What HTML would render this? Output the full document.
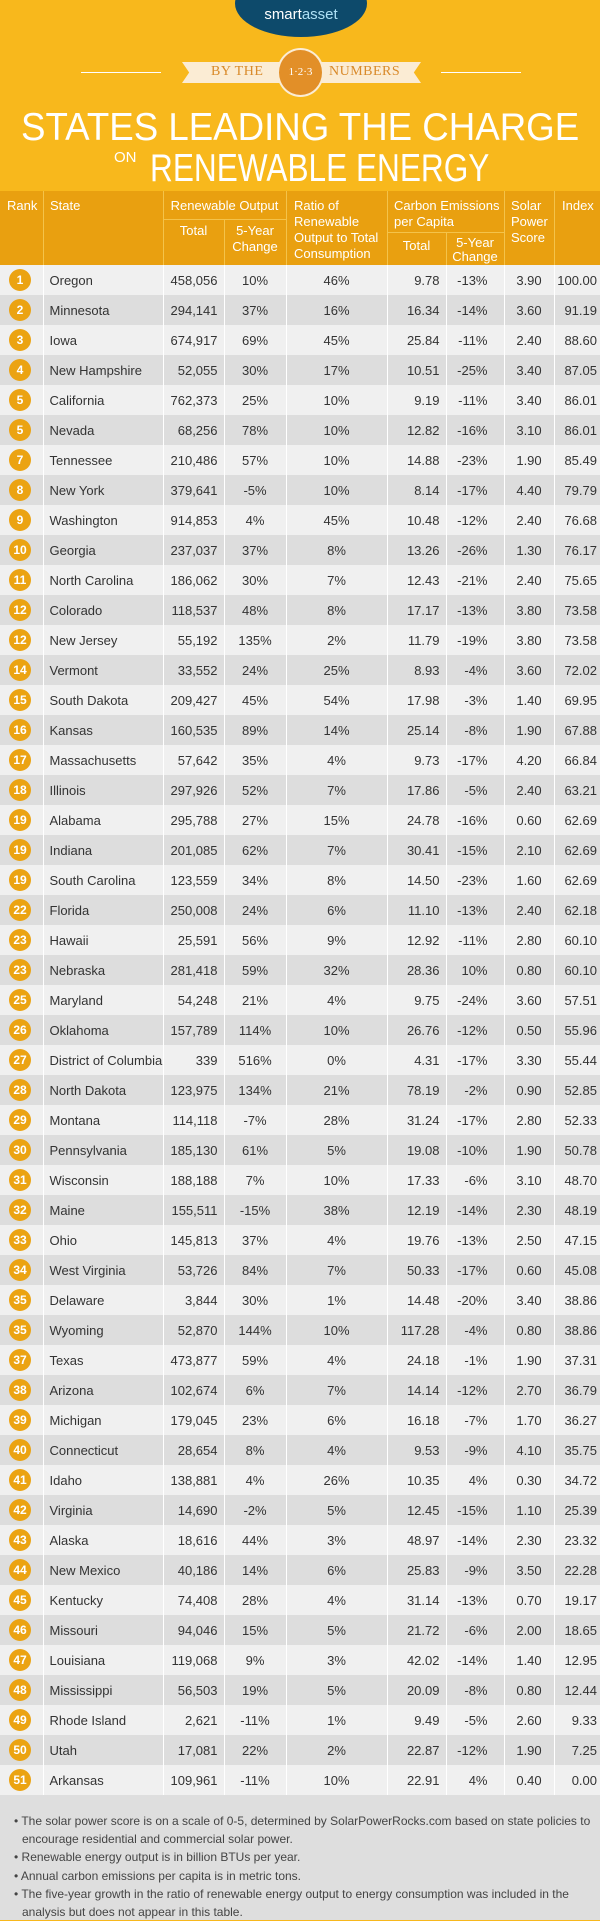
<!DOCTYPE html>
<html><head><meta charset="utf-8">
<style>
*{margin:0;padding:0;box-sizing:border-box}
body{width:600px;height:1920px;background:#f8b81c;font-family:"Liberation Sans",sans-serif;position:relative;overflow:hidden}
.abs{position:absolute}
.hd{position:absolute;background:#e9a010;}
.ht{position:absolute;color:#fff;font-size:13px;line-height:16px}
table{position:absolute;left:0;top:265px;width:600px;border-collapse:collapse;table-layout:fixed;font-size:13px;color:#333}
td{height:30px;padding:0;border-left:1px solid #fff;white-space:nowrap}
td:first-child{border-left:none}
tr:nth-child(odd){background:#f0f0f0}
tr:nth-child(even){background:#dddddd}
td.r{text-align:right;padding-right:6px}
td.c{text-align:center}
td.s{padding-left:6px}
td.cr{text-align:right;padding-right:16px}
td.ir{text-align:right;padding-right:3px}
.b{display:inline-block;width:22px;height:22px;border-radius:50%;background:#eba312;color:#fff;font-weight:bold;font-size:12px;line-height:22px;text-align:center;margin-left:9px;vertical-align:middle}
.notes{position:absolute;left:0;top:1795px;width:600px;height:125px;background:#dedede;font-size:12px;color:#444;line-height:17.5px;padding:18px 8px 0 8px}
.notes p{padding-left:14px;text-indent:-8px;margin-bottom:1px}
.t{position:absolute;white-space:nowrap;color:#fff;font-size:39px;line-height:44px}
</style></head><body>
<div class="abs" style="left:235px;top:-30px;width:132px;height:67px;border-radius:50%;background:#0d4a6b"></div>
<div class="abs" style="left:235px;top:6px;width:132px;text-align:center;color:#fff;font-size:15px">smart<span style="color:#aee0f5">asset</span></div>
<div class="abs" style="left:81px;top:72px;width:80px;height:1px;background:#fff"></div>
<div class="abs" style="left:441px;top:72px;width:80px;height:1px;background:#fff"></div>
<div class="abs" style="left:182px;top:62px;width:239px;height:21px;background:#fbecd4;clip-path:polygon(0 0,100% 0,97% 50%,100% 100%,0 100%,3% 50%)"></div>
<div class="abs" style="left:211px;top:64px;color:#d98a2a;font-family:'Liberation Serif',serif;font-size:14px;letter-spacing:0.5px">BY THE</div>
<div class="abs" style="left:329px;top:64px;color:#d98a2a;font-family:'Liberation Serif',serif;font-size:14px;letter-spacing:0.5px">NUMBERS</div>
<div class="abs" style="left:277px;top:48px;width:47px;height:49px;border-radius:50%;background:#e28f28;border:2px solid #fbecd4;color:#fff;font-size:11px;text-align:center;line-height:45px;font-family:'Liberation Serif',serif">1·2·3</div>
<div class="t" style="left:21px;top:106px;transform:scaleX(0.94);transform-origin:0 0">STATES LEADING THE CHARGE</div>
<div class="abs" style="left:114px;top:149px;color:#fff;font-size:15px">ON</div>
<div class="t" style="left:150px;top:147px;transform:scaleX(0.81);transform-origin:0 0">RENEWABLE ENERGY</div>
<!-- header -->
<div class="hd" style="left:0;top:191px;width:600px;height:74px"></div>
<div class="abs" style="left:43px;top:191px;width:1px;height:74px;background:#f4c34a"></div>
<div class="abs" style="left:163px;top:191px;width:1px;height:74px;background:#f4c34a"></div>
<div class="abs" style="left:286px;top:191px;width:1px;height:74px;background:#f4c34a"></div>
<div class="abs" style="left:387px;top:191px;width:1px;height:74px;background:#f4c34a"></div>
<div class="abs" style="left:504px;top:191px;width:1px;height:74px;background:#f4c34a"></div>
<div class="abs" style="left:554px;top:191px;width:1px;height:74px;background:#f4c34a"></div>
<div class="abs" style="left:163px;top:219px;width:123px;height:1px;background:#f4c34a"></div>
<div class="abs" style="left:224px;top:219px;width:1px;height:46px;background:#f4c34a"></div>
<div class="abs" style="left:387px;top:232px;width:117px;height:1px;background:#f4c34a"></div>
<div class="abs" style="left:446px;top:232px;width:1px;height:33px;background:#f4c34a"></div>
<div class="ht" style="left:7px;top:198px">Rank</div>
<div class="ht" style="left:50px;top:198px">State</div>
<div class="ht" style="left:163px;top:198px;width:123px;text-align:center">Renewable Output</div>
<div class="ht" style="left:163px;top:223px;width:61px;text-align:center">Total</div>
<div class="ht" style="left:224px;top:223px;width:62px;text-align:center">5-Year<br>Change</div>
<div class="ht" style="left:294px;top:198px">Ratio of<br>Renewable<br>Output to Total<br>Consumption</div>
<div class="ht" style="left:394px;top:198px">Carbon Emissions<br>per Capita</div>
<div class="ht" style="left:387px;top:238px;width:59px;text-align:center">Total</div>
<div class="ht" style="left:446px;top:236px;width:58px;text-align:center;line-height:14px">5-Year<br>Change</div>
<div class="ht" style="left:511px;top:198px">Solar<br>Power<br>Score</div>
<div class="ht" style="left:562px;top:198px">Index</div>
<table>
<colgroup><col style="width:43px"><col style="width:120px"><col style="width:61px"><col style="width:62px"><col style="width:101px"><col style="width:59px"><col style="width:58px"><col style="width:50px"><col style="width:46px"></colgroup>
<tr><td><span class="b">1</span></td><td class="s">Oregon</td><td class="r">458,056</td><td class="c">10%</td><td class="c">46%</td><td class="r">9.78</td><td class="cr">-13%</td><td class="c">3.90</td><td class="ir">100.00</td></tr>
<tr><td><span class="b">2</span></td><td class="s">Minnesota</td><td class="r">294,141</td><td class="c">37%</td><td class="c">16%</td><td class="r">16.34</td><td class="cr">-14%</td><td class="c">3.60</td><td class="ir">91.19</td></tr>
<tr><td><span class="b">3</span></td><td class="s">Iowa</td><td class="r">674,917</td><td class="c">69%</td><td class="c">45%</td><td class="r">25.84</td><td class="cr">-11%</td><td class="c">2.40</td><td class="ir">88.60</td></tr>
<tr><td><span class="b">4</span></td><td class="s">New Hampshire</td><td class="r">52,055</td><td class="c">30%</td><td class="c">17%</td><td class="r">10.51</td><td class="cr">-25%</td><td class="c">3.40</td><td class="ir">87.05</td></tr>
<tr><td><span class="b">5</span></td><td class="s">California</td><td class="r">762,373</td><td class="c">25%</td><td class="c">10%</td><td class="r">9.19</td><td class="cr">-11%</td><td class="c">3.40</td><td class="ir">86.01</td></tr>
<tr><td><span class="b">5</span></td><td class="s">Nevada</td><td class="r">68,256</td><td class="c">78%</td><td class="c">10%</td><td class="r">12.82</td><td class="cr">-16%</td><td class="c">3.10</td><td class="ir">86.01</td></tr>
<tr><td><span class="b">7</span></td><td class="s">Tennessee</td><td class="r">210,486</td><td class="c">57%</td><td class="c">10%</td><td class="r">14.88</td><td class="cr">-23%</td><td class="c">1.90</td><td class="ir">85.49</td></tr>
<tr><td><span class="b">8</span></td><td class="s">New York</td><td class="r">379,641</td><td class="c">-5%</td><td class="c">10%</td><td class="r">8.14</td><td class="cr">-17%</td><td class="c">4.40</td><td class="ir">79.79</td></tr>
<tr><td><span class="b">9</span></td><td class="s">Washington</td><td class="r">914,853</td><td class="c">4%</td><td class="c">45%</td><td class="r">10.48</td><td class="cr">-12%</td><td class="c">2.40</td><td class="ir">76.68</td></tr>
<tr><td><span class="b">10</span></td><td class="s">Georgia</td><td class="r">237,037</td><td class="c">37%</td><td class="c">8%</td><td class="r">13.26</td><td class="cr">-26%</td><td class="c">1.30</td><td class="ir">76.17</td></tr>
<tr><td><span class="b">11</span></td><td class="s">North Carolina</td><td class="r">186,062</td><td class="c">30%</td><td class="c">7%</td><td class="r">12.43</td><td class="cr">-21%</td><td class="c">2.40</td><td class="ir">75.65</td></tr>
<tr><td><span class="b">12</span></td><td class="s">Colorado</td><td class="r">118,537</td><td class="c">48%</td><td class="c">8%</td><td class="r">17.17</td><td class="cr">-13%</td><td class="c">3.80</td><td class="ir">73.58</td></tr>
<tr><td><span class="b">12</span></td><td class="s">New Jersey</td><td class="r">55,192</td><td class="c">135%</td><td class="c">2%</td><td class="r">11.79</td><td class="cr">-19%</td><td class="c">3.80</td><td class="ir">73.58</td></tr>
<tr><td><span class="b">14</span></td><td class="s">Vermont</td><td class="r">33,552</td><td class="c">24%</td><td class="c">25%</td><td class="r">8.93</td><td class="cr">-4%</td><td class="c">3.60</td><td class="ir">72.02</td></tr>
<tr><td><span class="b">15</span></td><td class="s">South Dakota</td><td class="r">209,427</td><td class="c">45%</td><td class="c">54%</td><td class="r">17.98</td><td class="cr">-3%</td><td class="c">1.40</td><td class="ir">69.95</td></tr>
<tr><td><span class="b">16</span></td><td class="s">Kansas</td><td class="r">160,535</td><td class="c">89%</td><td class="c">14%</td><td class="r">25.14</td><td class="cr">-8%</td><td class="c">1.90</td><td class="ir">67.88</td></tr>
<tr><td><span class="b">17</span></td><td class="s">Massachusetts</td><td class="r">57,642</td><td class="c">35%</td><td class="c">4%</td><td class="r">9.73</td><td class="cr">-17%</td><td class="c">4.20</td><td class="ir">66.84</td></tr>
<tr><td><span class="b">18</span></td><td class="s">Illinois</td><td class="r">297,926</td><td class="c">52%</td><td class="c">7%</td><td class="r">17.86</td><td class="cr">-5%</td><td class="c">2.40</td><td class="ir">63.21</td></tr>
<tr><td><span class="b">19</span></td><td class="s">Alabama</td><td class="r">295,788</td><td class="c">27%</td><td class="c">15%</td><td class="r">24.78</td><td class="cr">-16%</td><td class="c">0.60</td><td class="ir">62.69</td></tr>
<tr><td><span class="b">19</span></td><td class="s">Indiana</td><td class="r">201,085</td><td class="c">62%</td><td class="c">7%</td><td class="r">30.41</td><td class="cr">-15%</td><td class="c">2.10</td><td class="ir">62.69</td></tr>
<tr><td><span class="b">19</span></td><td class="s">South Carolina</td><td class="r">123,559</td><td class="c">34%</td><td class="c">8%</td><td class="r">14.50</td><td class="cr">-23%</td><td class="c">1.60</td><td class="ir">62.69</td></tr>
<tr><td><span class="b">22</span></td><td class="s">Florida</td><td class="r">250,008</td><td class="c">24%</td><td class="c">6%</td><td class="r">11.10</td><td class="cr">-13%</td><td class="c">2.40</td><td class="ir">62.18</td></tr>
<tr><td><span class="b">23</span></td><td class="s">Hawaii</td><td class="r">25,591</td><td class="c">56%</td><td class="c">9%</td><td class="r">12.92</td><td class="cr">-11%</td><td class="c">2.80</td><td class="ir">60.10</td></tr>
<tr><td><span class="b">23</span></td><td class="s">Nebraska</td><td class="r">281,418</td><td class="c">59%</td><td class="c">32%</td><td class="r">28.36</td><td class="cr">10%</td><td class="c">0.80</td><td class="ir">60.10</td></tr>
<tr><td><span class="b">25</span></td><td class="s">Maryland</td><td class="r">54,248</td><td class="c">21%</td><td class="c">4%</td><td class="r">9.75</td><td class="cr">-24%</td><td class="c">3.60</td><td class="ir">57.51</td></tr>
<tr><td><span class="b">26</span></td><td class="s">Oklahoma</td><td class="r">157,789</td><td class="c">114%</td><td class="c">10%</td><td class="r">26.76</td><td class="cr">-12%</td><td class="c">0.50</td><td class="ir">55.96</td></tr>
<tr><td><span class="b">27</span></td><td class="s">District of Columbia</td><td class="r">339</td><td class="c">516%</td><td class="c">0%</td><td class="r">4.31</td><td class="cr">-17%</td><td class="c">3.30</td><td class="ir">55.44</td></tr>
<tr><td><span class="b">28</span></td><td class="s">North Dakota</td><td class="r">123,975</td><td class="c">134%</td><td class="c">21%</td><td class="r">78.19</td><td class="cr">-2%</td><td class="c">0.90</td><td class="ir">52.85</td></tr>
<tr><td><span class="b">29</span></td><td class="s">Montana</td><td class="r">114,118</td><td class="c">-7%</td><td class="c">28%</td><td class="r">31.24</td><td class="cr">-17%</td><td class="c">2.80</td><td class="ir">52.33</td></tr>
<tr><td><span class="b">30</span></td><td class="s">Pennsylvania</td><td class="r">185,130</td><td class="c">61%</td><td class="c">5%</td><td class="r">19.08</td><td class="cr">-10%</td><td class="c">1.90</td><td class="ir">50.78</td></tr>
<tr><td><span class="b">31</span></td><td class="s">Wisconsin</td><td class="r">188,188</td><td class="c">7%</td><td class="c">10%</td><td class="r">17.33</td><td class="cr">-6%</td><td class="c">3.10</td><td class="ir">48.70</td></tr>
<tr><td><span class="b">32</span></td><td class="s">Maine</td><td class="r">155,511</td><td class="c">-15%</td><td class="c">38%</td><td class="r">12.19</td><td class="cr">-14%</td><td class="c">2.30</td><td class="ir">48.19</td></tr>
<tr><td><span class="b">33</span></td><td class="s">Ohio</td><td class="r">145,813</td><td class="c">37%</td><td class="c">4%</td><td class="r">19.76</td><td class="cr">-13%</td><td class="c">2.50</td><td class="ir">47.15</td></tr>
<tr><td><span class="b">34</span></td><td class="s">West Virginia</td><td class="r">53,726</td><td class="c">84%</td><td class="c">7%</td><td class="r">50.33</td><td class="cr">-17%</td><td class="c">0.60</td><td class="ir">45.08</td></tr>
<tr><td><span class="b">35</span></td><td class="s">Delaware</td><td class="r">3,844</td><td class="c">30%</td><td class="c">1%</td><td class="r">14.48</td><td class="cr">-20%</td><td class="c">3.40</td><td class="ir">38.86</td></tr>
<tr><td><span class="b">35</span></td><td class="s">Wyoming</td><td class="r">52,870</td><td class="c">144%</td><td class="c">10%</td><td class="r">117.28</td><td class="cr">-4%</td><td class="c">0.80</td><td class="ir">38.86</td></tr>
<tr><td><span class="b">37</span></td><td class="s">Texas</td><td class="r">473,877</td><td class="c">59%</td><td class="c">4%</td><td class="r">24.18</td><td class="cr">-1%</td><td class="c">1.90</td><td class="ir">37.31</td></tr>
<tr><td><span class="b">38</span></td><td class="s">Arizona</td><td class="r">102,674</td><td class="c">6%</td><td class="c">7%</td><td class="r">14.14</td><td class="cr">-12%</td><td class="c">2.70</td><td class="ir">36.79</td></tr>
<tr><td><span class="b">39</span></td><td class="s">Michigan</td><td class="r">179,045</td><td class="c">23%</td><td class="c">6%</td><td class="r">16.18</td><td class="cr">-7%</td><td class="c">1.70</td><td class="ir">36.27</td></tr>
<tr><td><span class="b">40</span></td><td class="s">Connecticut</td><td class="r">28,654</td><td class="c">8%</td><td class="c">4%</td><td class="r">9.53</td><td class="cr">-9%</td><td class="c">4.10</td><td class="ir">35.75</td></tr>
<tr><td><span class="b">41</span></td><td class="s">Idaho</td><td class="r">138,881</td><td class="c">4%</td><td class="c">26%</td><td class="r">10.35</td><td class="cr">4%</td><td class="c">0.30</td><td class="ir">34.72</td></tr>
<tr><td><span class="b">42</span></td><td class="s">Virginia</td><td class="r">14,690</td><td class="c">-2%</td><td class="c">5%</td><td class="r">12.45</td><td class="cr">-15%</td><td class="c">1.10</td><td class="ir">25.39</td></tr>
<tr><td><span class="b">43</span></td><td class="s">Alaska</td><td class="r">18,616</td><td class="c">44%</td><td class="c">3%</td><td class="r">48.97</td><td class="cr">-14%</td><td class="c">2.30</td><td class="ir">23.32</td></tr>
<tr><td><span class="b">44</span></td><td class="s">New Mexico</td><td class="r">40,186</td><td class="c">14%</td><td class="c">6%</td><td class="r">25.83</td><td class="cr">-9%</td><td class="c">3.50</td><td class="ir">22.28</td></tr>
<tr><td><span class="b">45</span></td><td class="s">Kentucky</td><td class="r">74,408</td><td class="c">28%</td><td class="c">4%</td><td class="r">31.14</td><td class="cr">-13%</td><td class="c">0.70</td><td class="ir">19.17</td></tr>
<tr><td><span class="b">46</span></td><td class="s">Missouri</td><td class="r">94,046</td><td class="c">15%</td><td class="c">5%</td><td class="r">21.72</td><td class="cr">-6%</td><td class="c">2.00</td><td class="ir">18.65</td></tr>
<tr><td><span class="b">47</span></td><td class="s">Louisiana</td><td class="r">119,068</td><td class="c">9%</td><td class="c">3%</td><td class="r">42.02</td><td class="cr">-14%</td><td class="c">1.40</td><td class="ir">12.95</td></tr>
<tr><td><span class="b">48</span></td><td class="s">Mississippi</td><td class="r">56,503</td><td class="c">19%</td><td class="c">5%</td><td class="r">20.09</td><td class="cr">-8%</td><td class="c">0.80</td><td class="ir">12.44</td></tr>
<tr><td><span class="b">49</span></td><td class="s">Rhode Island</td><td class="r">2,621</td><td class="c">-11%</td><td class="c">1%</td><td class="r">9.49</td><td class="cr">-5%</td><td class="c">2.60</td><td class="ir">9.33</td></tr>
<tr><td><span class="b">50</span></td><td class="s">Utah</td><td class="r">17,081</td><td class="c">22%</td><td class="c">2%</td><td class="r">22.87</td><td class="cr">-12%</td><td class="c">1.90</td><td class="ir">7.25</td></tr>
<tr><td><span class="b">51</span></td><td class="s">Arkansas</td><td class="r">109,961</td><td class="c">-11%</td><td class="c">10%</td><td class="r">22.91</td><td class="cr">4%</td><td class="c">0.40</td><td class="ir">0.00</td></tr>
</table>
<div class="notes">
<p>• The solar power score is on a scale of 0-5, determined by SolarPowerRocks.com based on state policies to encourage residential and commercial solar power.</p>
<p>• Renewable energy output is in billion BTUs per year.</p>
<p>• Annual carbon emissions per capita is in metric tons.</p>
<p>• The five-year growth in the ratio of renewable energy output to energy consumption was included in the analysis but does not appear in this table.</p>
</div>
</body></html>
